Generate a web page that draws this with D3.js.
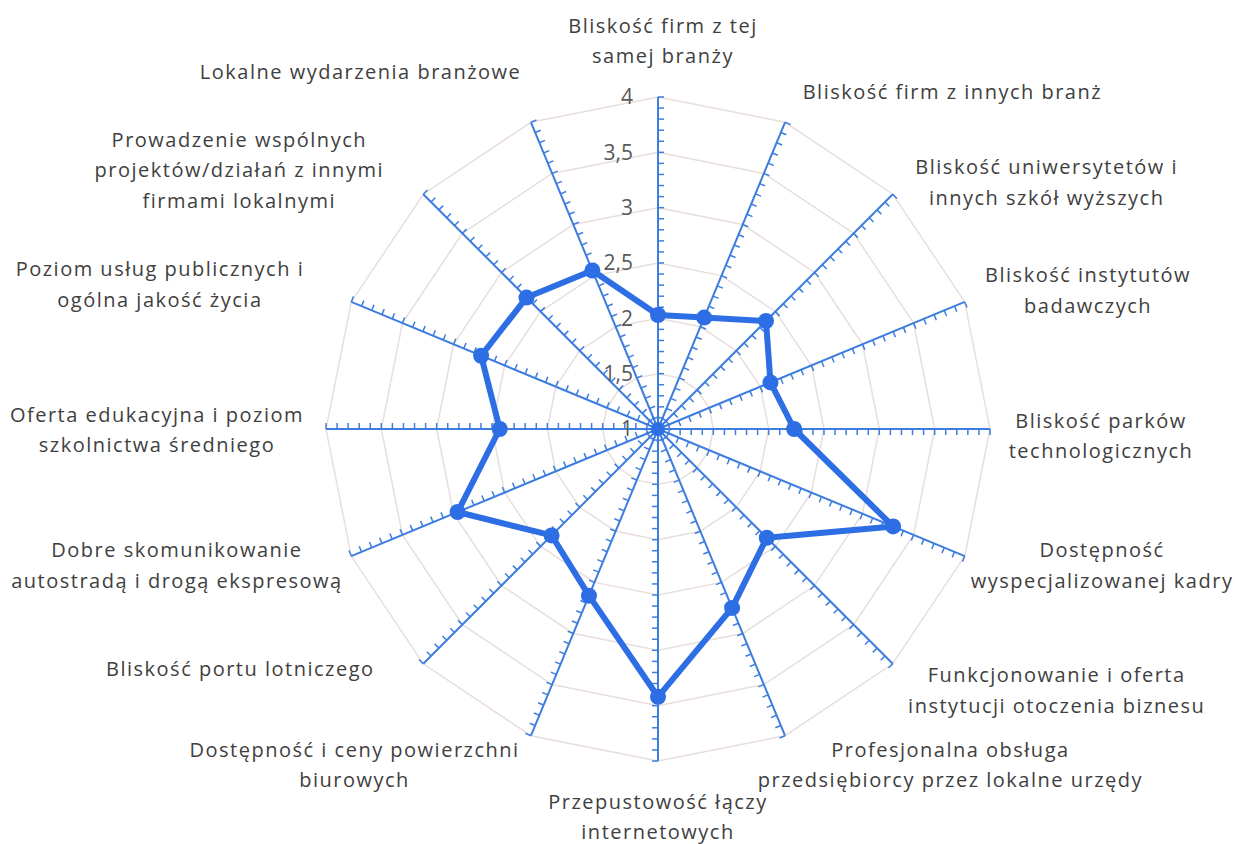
<!DOCTYPE html>
<html>
<head>
<meta charset="utf-8">
<script src="https://cdn.jsdelivr.net/npm/d3@7"></script>
<style>
  body { margin: 0; background: #fff; }
  text { font-family: "Open Sans", "Noto Sans", sans-serif; }
</style>
</head>
<body>
<div id="chart"></div>
<script>
const width = 1235;
const height = 844;

// axis categories, clockwise from the top
const categories = [
  ["Bliskość firm z tej", "samej branży"],
  ["Bliskość firm z innych branż"],
  ["Bliskość uniwersytetów i", "innych szkół wyższych"],
  ["Bliskość instytutów", "badawczych"],
  ["Bliskość parków", "technologicznych"],
  ["Dostępność", "wyspecjalizowanej kadry"],
  ["Funkcjonowanie i oferta", "instytucji otoczenia biznesu"],
  ["Profesjonalna obsługa", "przedsiębiorcy przez lokalne urzędy"],
  ["Przepustowość łączy", "internetowych"],
  ["Dostępność i ceny powierzchni", "biurowych"],
  ["Bliskość portu lotniczego"],
  ["Dobre skomunikowanie", "autostradą i drogą ekspresową"],
  ["Oferta edukacyjna i poziom", "szkolnictwa średniego"],
  ["Poziom usług publicznych i", "ogólna jakość życia"],
  ["Prowadzenie wspólnych", "projektów/działań z innymi", "firmami lokalnymi"],
  ["Lokalne wydarzenia branżowe"]
];

const values = [2.03, 2.09, 2.38, 2.1, 2.23, 3.3, 2.39, 2.75, 3.42, 2.63, 2.36, 2.96, 2.43, 2.73, 2.68, 2.55];

const ringValues = [1.5, 2, 2.5, 3, 3.5, 4];
const tickLabels = ["1", "1,5", "2", "2,5", "3", "3,5", "4"];
const tickLabelValues = [1, 1.5, 2, 2.5, 3, 3.5, 4];

// label block centre, nudged from the point just beyond the axis end
const labelLayout = [
  { dx: 5, dy: -8 },
  { dx: 149, dy: 14 },
  { dx: 120, dy: 22 },
  { dx: 79, dy: 7 },
  { dx: 63, dy: 7 },
  { dx: 93, dy: -9 },
  { dx: 130, dy: -7 },
  { dx: 147, dy: -15 },
  { dx: 0, dy: 8 },
  { dx: -158, dy: -15 },
  { dx: -149, dy: -29 },
  { dx: -130, dy: -9 },
  { dx: -121, dy: 1 },
  { dx: -147, dy: 1 },
  { dx: -150, dy: 10 },
  { dx: -152, dy: -6 }
];

const cx = 658, cy = 429;
const n = categories.length;

const r = d3.scaleLinear().domain([1, 4]).range([0, 332]);
const angle = d3.scaleLinear().domain([0, n]).range([0, 2 * Math.PI]);

const pt = (i, v) => {
  const a = angle(i);
  return [cx + r(v) * Math.sin(a), cy - r(v) * Math.cos(a)];
};

const svg = d3.select("#chart").append("svg")
  .attr("width", width)
  .attr("height", height);

// grid rings
const ringLine = d3.line();
svg.append("g").selectAll("path")
  .data(ringValues)
  .join("path")
  .attr("d", v => ringLine(d3.range(n).map(i => pt(i, v))) + "Z")
  .attr("fill", "none")
  .attr("stroke", "#e8dedb")
  .attr("stroke-width", 1.5);

// axes with minor ticks
const axisColor = "#3d7ddf";
const minor = d3.range(11, 41).map(d => d / 10);
const axes = svg.append("g");
d3.range(n).forEach(i => {
  const a = angle(i);
  const end = pt(i, 4);
  axes.append("line")
    .attr("x1", cx).attr("y1", cy)
    .attr("x2", end[0]).attr("y2", end[1])
    .attr("stroke", axisColor)
    .attr("stroke-width", 2);
  // perpendicular clockwise direction
  const px = Math.cos(a), py = Math.sin(a);
  axes.append("g").selectAll("line")
    .data(minor)
    .join("line")
    .attr("x1", v => pt(i, v)[0])
    .attr("y1", v => pt(i, v)[1])
    .attr("x2", v => pt(i, v)[0] + px * 6)
    .attr("y2", v => pt(i, v)[1] + py * 6)
    .attr("stroke", axisColor)
    .attr("stroke-width", 1.5);
});

// value tick labels
svg.append("g").selectAll("text")
  .data(tickLabelValues)
  .join("text")
  .attr("x", cx - 25)
  .attr("y", v => cy - r(v))
  .attr("dy", "0.35em")
  .attr("text-anchor", "end")
  .attr("fill", "#595959")
  .attr("font-size", 21)
  .text((v, i) => tickLabels[i]);

// series
const lineColor = "#2d6ee4";
svg.append("path")
  .attr("d", ringLine(values.map((v, i) => pt(i, v))) + "Z")
  .attr("fill", "none")
  .attr("stroke", lineColor)
  .attr("stroke-width", 6)
  .attr("stroke-linejoin", "round");

svg.append("g").selectAll("circle")
  .data(values)
  .join("circle")
  .attr("cx", (v, i) => pt(i, v)[0])
  .attr("cy", (v, i) => pt(i, v)[1])
  .attr("r", 8)
  .attr("fill", lineColor);

svg.append("circle")
  .attr("cx", cx).attr("cy", cy)
  .attr("r", 7)
  .attr("fill", lineColor);

// category labels
const lineH = 30.5;
const labels = svg.append("g");
categories.forEach((lines, i) => {
  const base = pt(i, 1 + 380 / 332 * 3);
  const lay = labelLayout[i];
  const t = labels.append("text")
    .attr("text-anchor", "middle")
    .attr("fill", "#404040")
    .attr("font-size", 20)
    .attr("letter-spacing", 1.5);
  const y0 = base[1] + lay.dy - (lines.length - 1) * lineH / 2;
  lines.forEach((s, k) => {
    t.append("tspan")
      .attr("x", base[0] + lay.dx)
      .attr("y", y0 + k * lineH)
      .attr("dy", "0.35em")
      .text(s);
  });
});
</script>
</body>
</html>
